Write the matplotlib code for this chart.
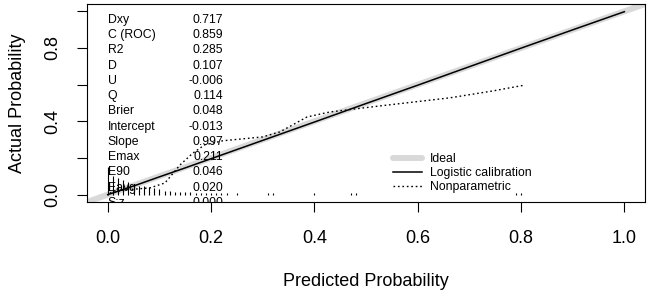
import matplotlib
matplotlib.use("Agg")
import matplotlib.pyplot as plt
from matplotlib.lines import Line2D

plt.rcParams['font.family'] = ['Liberation Sans', 'DejaVu Sans']

# ---- data ----
stat_names = ["Dxy", "C (ROC)", "R2", "D", "U", "Q", "Brier", "Intercept",
              "Slope", "Emax", "E90", "Eavg", "S:z"]
stat_values = ["0.717", "0.859", "0.285", "0.107", "-0.006", "0.114", "0.048",
               "-0.013", "0.997", "0.211", "0.046", "0.020", "0.000"]

ideal_x = [-0.1, 1.1]
ideal_y = [-0.1, 1.1]

logistic_x = [0.0, 0.05, 0.10, 0.15, 0.20, 0.30, 0.40, 0.50, 0.60, 0.70, 0.80, 0.90, 1.00]
logistic_y = [0.0, 0.047, 0.097, 0.146, 0.196, 0.296, 0.396, 0.497, 0.597, 0.698, 0.799, 0.899, 0.998]

nonpar_x = [0.004, 0.033, 0.082, 0.111, 0.140, 0.165, 0.188, 0.223, 0.300, 0.333,
            0.386, 0.430, 0.462, 0.527, 0.662, 0.746, 0.808]
nonpar_y = [0.009, 0.026, 0.037, 0.064, 0.162, 0.227, 0.272, 0.294, 0.315, 0.342,
            0.424, 0.451, 0.462, 0.484, 0.528, 0.566, 0.598]

spike_x = [0.00, 0.01, 0.02, 0.03, 0.04, 0.05, 0.06, 0.07, 0.08, 0.09, 0.10, 0.11,
           0.12, 0.13, 0.14, 0.15, 0.16, 0.17, 0.18, 0.19, 0.20, 0.21, 0.22, 0.23,
           0.25, 0.31, 0.32, 0.40, 0.47, 0.48, 0.79, 0.80]
spike_h = [0.150, 0.100, 0.090, 0.080, 0.070, 0.060, 0.050, 0.045, 0.040, 0.035,
           0.030, 0.022, 0.018, 0.015, 0.012, 0.012, 0.012, 0.010, 0.010, 0.010,
           0.010, 0.010, 0.010, 0.010, 0.010, 0.010, 0.010, 0.010, 0.010, 0.010,
           0.010, 0.010]

x_ticks = [0.0, 0.2, 0.4, 0.6, 0.8, 1.0]
x_ticklabels = ["0.0", "0.2", "0.4", "0.6", "0.8", "1.0"]
y_ticks = [0.0, 0.2, 0.4, 0.6, 0.8, 1.0]
y_ticklabels = ["0.0", "", "0.4", "", "0.8", ""]

legend_labels = ["Ideal", "Logistic calibration", "Nonparametric"]

# ---- figure ----
fig = plt.figure(figsize=(6.5, 2.92), dpi=100)
ax = fig.add_axes([87/650, 90/292, 558/650, 198/292])
ax.set_xlim(-0.04, 1.04)
ax.set_ylim(-0.04, 1.04)

ideal_col = "#d9d9d9"
ax.plot(ideal_x, ideal_y, color=ideal_col, lw=4.3, solid_capstyle='round', zorder=1)
ax.plot(logistic_x, logistic_y, color="black", lw=1.1, zorder=3)
ax.plot(nonpar_x, nonpar_y, color="black", lw=1.0, linestyle=(0, (1.2, 2.0)), zorder=3)
ax.vlines(spike_x, 0, spike_h, color="black", lw=0.8, zorder=3)

# stats text
y0 = 0.953
dy = 0.0832
for i, (n, v) in enumerate(zip(stat_names, stat_values)):
    yy = y0 - i * dy
    ax.text(0.0, yy, n, ha="left", va="center", fontsize=8.8, clip_on=True, zorder=4)
    ax.text(0.224, yy, v, ha="right", va="center", fontsize=8.8, clip_on=True, zorder=4)

handles = [Line2D([0], [0], color=ideal_col, lw=4.3, solid_capstyle='round'),
           Line2D([0], [0], color="black", lw=1.1),
           Line2D([0], [0], color="black", lw=1.0, linestyle=(0, (1.2, 2.0)))]
ax.legend(handles, legend_labels, loc="upper left", bbox_to_anchor=(0.548, 0.245),
          frameon=False, fontsize=8.8, handlelength=2.4, handletextpad=0.65,
          labelspacing=0.15, borderpad=0, borderaxespad=0)

ax.set_xticks(x_ticks)
ax.set_xticklabels(x_ticklabels)
ax.set_yticks(y_ticks)
ax.set_yticklabels(y_ticklabels, rotation=90, va="center")
ax.tick_params(axis="both", direction="out", length=7.2, width=0.8, labelsize=13,
               color="black")
ax.tick_params(axis="x", pad=13)
ax.tick_params(axis="y", pad=11)
for s in ax.spines.values():
    s.set_linewidth(0.8)

ax.set_xlabel("Predicted Probability", fontsize=13)
ax.set_ylabel("Actual Probability", fontsize=13)
ax.xaxis.set_label_coords(0.5, -0.36)
ax.yaxis.set_label_coords(-0.11, 0.5)

fig.savefig("out.png", dpi=100)
